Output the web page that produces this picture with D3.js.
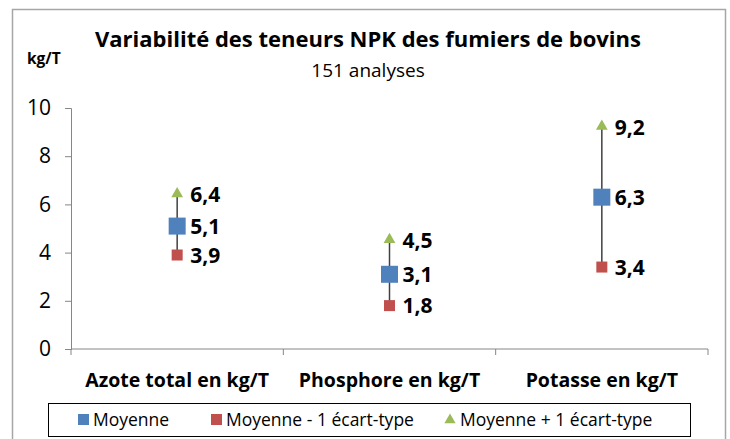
<!DOCTYPE html>
<html>
<head>
<meta charset="utf-8">
<script src="https://cdn.jsdelivr.net/npm/d3@7"></script>
<style>
  body { margin: 0; background: #fff; }
  svg text { font-family: "Open Sans", "Noto Sans", sans-serif; fill: #000; }
</style>
</head>
<body>
<svg id="chart" width="730" height="439"></svg>
<script>
// chart data
const categories = ['Azote total en kg/T', 'Phosphore en kg/T', 'Potasse en kg/T'];
const moyenne    = [5.1, 3.1, 6.3];
const moinsEcart = [3.9, 1.8, 3.4];
const plusEcart  = [6.4, 4.5, 9.2];
const yTicks = [0, 2, 4, 6, 8, 10];
const seriesNames = ['Moyenne', 'Moyenne - 1 écart-type', 'Moyenne + 1 écart-type'];

const BLUE = '#4f81bd', RED = '#c0504d', GREEN = '#9bbb59';
const fmt = v => v.toFixed(1).replace('.', ',');

const svg = d3.select('#chart');
const m = { l: 71, r: 708, t: 108, b: 349 };

// outer frame (bottom edge runs off the picture)
svg.append('path').attr('d', 'M12.5,440 V9.5 H725.5 V440')
  .attr('fill', 'none').attr('stroke', '#a6a6a6').attr('stroke-width', 1.5);

const x = d3.scaleBand().domain(categories).range([m.l, m.r]);
const y = d3.scaleLinear().domain([0, 10]).range([m.b, m.t]);

// y axis
const ya = svg.append('g').attr('transform', `translate(${m.l},0)`)
  .call(d3.axisLeft(y).tickValues(yTicks).tickSize(6).tickPadding(14).tickFormat(d => d));
ya.selectAll('path, line').attr('stroke', '#868686');
ya.selectAll('text').attr('font-size', 21).attr('fill', '#000');

// x axis (category boundaries as ticks)
const xa = svg.append('g').attr('transform', `translate(0,${m.b})`);
xa.append('line').attr('x1', m.l).attr('x2', m.r).attr('stroke', '#868686');
categories.concat([null]).forEach(c => {
  const xx = c ? x(c) : m.r;
  xa.append('line').attr('x1', xx).attr('x2', xx).attr('y1', 0).attr('y2', 6).attr('stroke', '#868686');
});
categories.forEach(c => {
  svg.append('text').attr('x', x(c) + x.bandwidth() / 2).attr('y', 387)
    .attr('text-anchor', 'middle').attr('font-size', 19.5).attr('font-weight', 700).text(c);
});

// titles
svg.append('text').attr('x', 368).attr('y', 47).attr('text-anchor', 'middle')
  .attr('font-size', 22).attr('font-weight', 700).text('Variabilité des teneurs NPK des fumiers de bovins');
svg.append('text').attr('x', 368).attr('y', 77).attr('text-anchor', 'middle')
  .attr('font-size', 19).text('151 analyses');
svg.append('text').attr('x', 27).attr('y', 64)
  .attr('font-size', 15.5).attr('font-weight', 700).text('kg/T');

// range lines
const cx = i => x(categories[i]) + x.bandwidth() / 2;
const g = svg.append('g');
categories.forEach((c, i) => {
  g.append('line').attr('x1', cx(i)).attr('x2', cx(i))
    .attr('y1', y(plusEcart[i])).attr('y2', y(moinsEcart[i]))
    .attr('stroke', '#404040').attr('stroke-width', 1.5);
});

const tri = d3.symbol().type(d3.symbolTriangle).size(60);
categories.forEach((c, i) => {
  g.append('rect').attr('x', cx(i) - 5.5).attr('y', y(moinsEcart[i]) - 5.5).attr('width', 11).attr('height', 11).attr('fill', RED);
  g.append('path').attr('d', tri).attr('transform', `translate(${cx(i)},${y(plusEcart[i]) - 1})`).attr('fill', GREEN);
  g.append('rect').attr('x', cx(i) - 8.5).attr('y', y(moyenne[i]) - 8.5).attr('width', 17).attr('height', 17).attr('fill', BLUE);
});

// data labels
[moyenne, moinsEcart, plusEcart].forEach(arr => {
  arr.forEach((v, i) => {
    g.append('text').attr('x', cx(i) + 13).attr('y', y(v)).attr('dy', '0.36em')
      .attr('font-size', 21).attr('font-weight', 700).text(fmt(v));
  });
});

// legend
svg.append('rect').attr('x', 48.5).attr('y', 403.5).attr('width', 642).attr('height', 33)
  .attr('fill', '#fff').attr('stroke', '#000').attr('stroke-width', 1);
const leg = [
  { name: seriesNames[0], color: BLUE, shape: 'sq', x: 78 },
  { name: seriesNames[1], color: RED, shape: 'sq', x: 211 },
  { name: seriesNames[2], color: GREEN, shape: 'tri', x: 445 }
];
leg.forEach(d => {
  if (d.shape === 'sq') {
    svg.append('rect').attr('x', d.x).attr('y', 414).attr('width', 11).attr('height', 11).attr('fill', d.color);
  } else {
    svg.append('path').attr('d', d3.symbol().type(d3.symbolTriangle).size(55))
      .attr('transform', `translate(${d.x + 5},${420})`).attr('fill', d.color);
  }
  svg.append('text').attr('x', d.x + 15).attr('y', 420).attr('dy', '0.36em')
    .attr('font-size', 17.5).text(d.name);
});
</script>
</body>
</html>
